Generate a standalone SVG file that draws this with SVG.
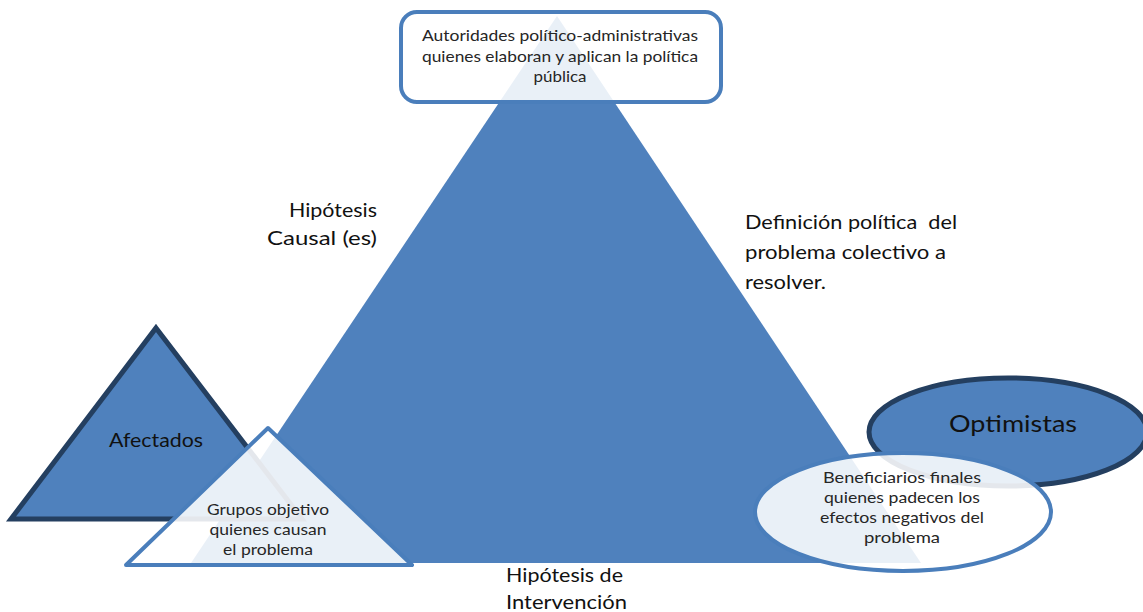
<svg xmlns="http://www.w3.org/2000/svg" width="1143" height="612" viewBox="0 0 1143 612">
<style>
.bl{fill:#4f81bd}
.dk{fill:#4f81bd;stroke:#243f60;stroke-width:5;stroke-linejoin:miter}
.lt{fill:#ffffff;fill-opacity:0.88;stroke:#4a7ebb;stroke-width:4}
text{font-family:Lato,"Open Sans","Liberation Sans",sans-serif;fill:#111}
.sm{font-size:15px;fill:#262626;text-anchor:middle}
.lg{font-size:20px}
</style>
<rect width="1143" height="612" fill="#ffffff"/>
<g id="main-triangle">
<polygon class="bl" points="557,16 921,563 191,563"/>
</g>
<g id="autoridades">
<rect class="lt" x="401" y="12" width="320" height="90" rx="16" ry="16"/>
<text class="sm" x="560" y="41" textLength="276" lengthAdjust="spacingAndGlyphs">Autoridades político-administrativas</text>
<text class="sm" x="560" y="62" textLength="276" lengthAdjust="spacingAndGlyphs">quienes elaboran y aplican la política</text>
<text class="sm" x="560" y="82" textLength="53" lengthAdjust="spacingAndGlyphs">pública</text>
</g>
<g id="afectados">
<polygon class="dk" points="156,328 302,519 11,519"/>
<text class="lg" x="156" y="447" text-anchor="middle" textLength="94" lengthAdjust="spacingAndGlyphs">Afectados</text>
</g>
<g id="grupos-objetivo">
<polygon class="lt" points="268,428 412,565 126,565" stroke-linejoin="round"/>
<text class="sm" x="268" y="515" textLength="122" lengthAdjust="spacingAndGlyphs">Grupos objetivo</text>
<text class="sm" x="268" y="535" textLength="117" lengthAdjust="spacingAndGlyphs">quienes causan</text>
<text class="sm" x="268" y="555" textLength="90" lengthAdjust="spacingAndGlyphs">el problema</text>
</g>
<g id="optimistas">
<ellipse class="dk" cx="1008" cy="432" rx="139" ry="54"/>
<text x="1013" y="432" font-size="24" text-anchor="middle" textLength="128" lengthAdjust="spacingAndGlyphs">Optimistas</text>
</g>
<g id="beneficiarios">
<ellipse class="lt" cx="903" cy="512" rx="148" ry="59"/>
<text class="sm" x="902" y="483" textLength="158" lengthAdjust="spacingAndGlyphs">Beneficiarios finales</text>
<text class="sm" x="902" y="503" textLength="156" lengthAdjust="spacingAndGlyphs">quienes padecen los</text>
<text class="sm" x="902" y="523" textLength="164" lengthAdjust="spacingAndGlyphs">efectos negativos del</text>
<text class="sm" x="902" y="543" textLength="76" lengthAdjust="spacingAndGlyphs">problema</text>
</g>
<g id="labels">
<text class="lg" x="377" y="217" text-anchor="end" textLength="88" lengthAdjust="spacingAndGlyphs">Hipótesis</text>
<text class="lg" x="377" y="245" text-anchor="end" textLength="110" lengthAdjust="spacingAndGlyphs">Causal (es)</text>
<text class="lg" x="745" y="229" textLength="212" lengthAdjust="spacingAndGlyphs" style="white-space:pre">Definición política  del</text>
<text class="lg" x="745" y="259" textLength="201" lengthAdjust="spacingAndGlyphs">problema colectivo a</text>
<text class="lg" x="745" y="289" textLength="81" lengthAdjust="spacingAndGlyphs">resolver.</text>
<text class="lg" x="506" y="582" textLength="117" lengthAdjust="spacingAndGlyphs">Hipótesis de</text>
<text class="lg" x="506" y="609" textLength="121" lengthAdjust="spacingAndGlyphs">Intervención</text>
</g>
<g id="connectors"></g>
</svg>
